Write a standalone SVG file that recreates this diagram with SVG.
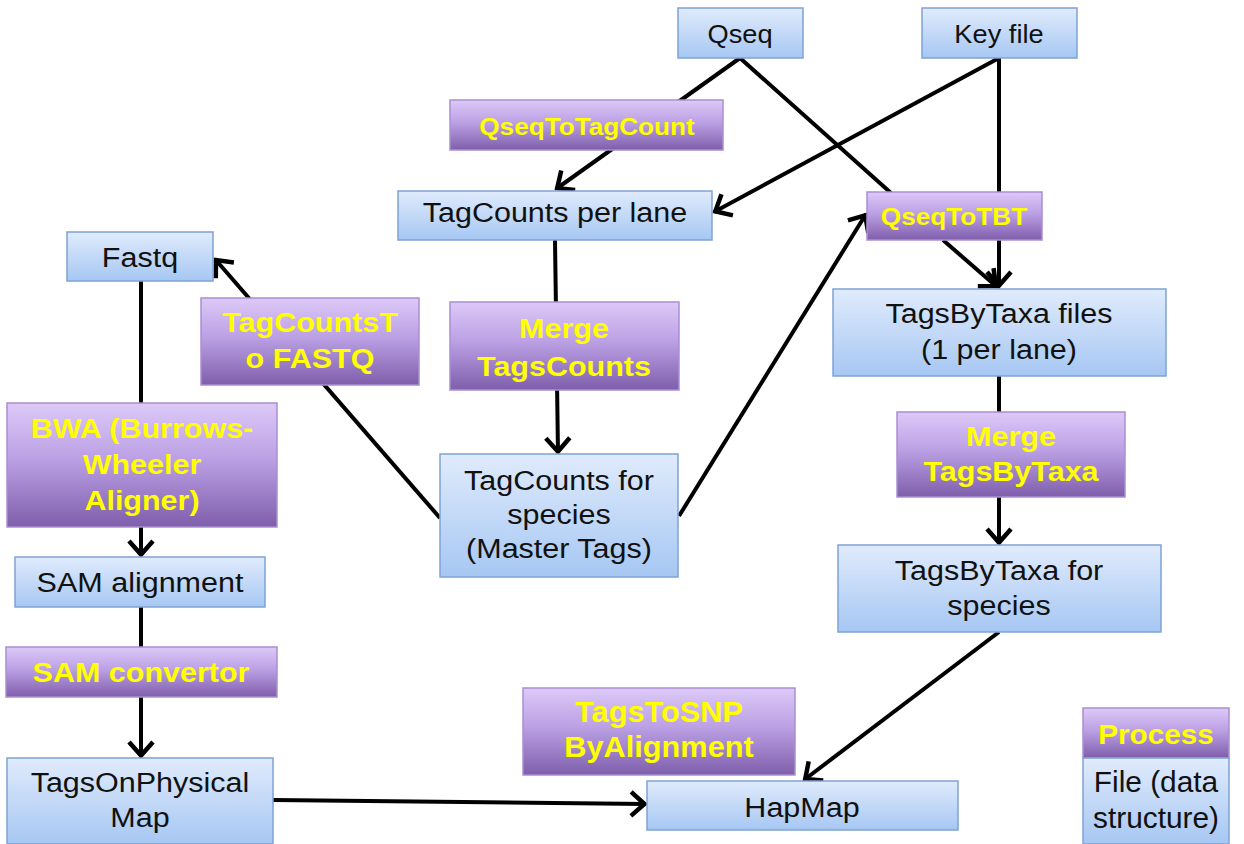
<svg xmlns="http://www.w3.org/2000/svg" width="1244" height="844" viewBox="0 0 1244 844">
<defs>
<linearGradient id="gBlue" x1="0" y1="0" x2="0" y2="1">
<stop offset="0" stop-color="#e0ebfc"/>
<stop offset="1" stop-color="#a6c7f3"/>
</linearGradient>
<linearGradient id="gPurple" x1="0" y1="0" x2="0" y2="1">
<stop offset="0" stop-color="#ddc9f8"/>
<stop offset="0.45" stop-color="#bba0e4"/>
<stop offset="1" stop-color="#7f5eab"/>
</linearGradient>
<marker id="arr" markerUnits="userSpaceOnUse" viewBox="-20 -16 24 32" markerWidth="24" markerHeight="32" refX="0" refY="0" orient="auto">
<path d="M-15,-12 L-1.5,0 L-15,12" fill="none" stroke="#000" stroke-width="4.5" stroke-linejoin="miter"/>
</marker>
<style>
.file{fill:url(#gBlue);stroke:#7ea3d4;stroke-width:1.5}
.proc{fill:url(#gPurple);stroke:#a98fcf;stroke-width:1.5}
.bt{font-family:"Liberation Sans",Arial,sans-serif;font-size:28px;fill:#111;text-anchor:middle}
.st{font-family:"Liberation Sans",Arial,sans-serif;font-size:25px;fill:#111;text-anchor:middle}
.pt{font-family:"Liberation Sans",Arial,sans-serif;font-weight:bold;font-size:28px;fill:#ffff00;text-anchor:middle}
.ps{font-family:"Liberation Sans",Arial,sans-serif;font-weight:bold;font-size:24px;fill:#ffff00;text-anchor:middle}
.c{stroke:#000;stroke-width:4;fill:none}
.ca{stroke:#000;stroke-width:4;fill:none;marker-end:url(#arr)}
</style>
</defs>
<rect width="1244" height="844" fill="#fff"/>
<g id="connectors">
<line class="ca" x1="740" y1="58" x2="556" y2="189"/>
<line class="c" x1="740" y1="58" x2="891" y2="193"/>
<line class="ca" x1="999" y1="58" x2="714" y2="212"/>
<line class="ca" x1="999" y1="58" x2="999" y2="287"/>
<line class="ca" x1="943" y1="240" x2="997" y2="287"/>
<line class="ca" x1="555" y1="240" x2="558" y2="453"/>
<line class="ca" x1="679" y1="516" x2="866" y2="214"/>
<line class="ca" x1="440" y1="518" x2="215" y2="259"/>
<line class="ca" x1="141" y1="281" x2="141" y2="556"/>
<line class="ca" x1="141" y1="607" x2="141" y2="757"/>
<line class="ca" x1="273" y1="800" x2="646" y2="804"/>
<line class="ca" x1="999" y1="632" x2="804" y2="780"/>
<line class="ca" x1="999" y1="376" x2="999" y2="544"/>
</g>
<g id="qseq"><rect class="file" x="678" y="8" width="125" height="50"/><text class="st" transform="translate(740,43) scale(1.09,1)">Qseq</text></g>
<g id="keyfile"><rect class="file" x="922" y="8" width="155" height="50"/><text class="st" transform="translate(999,43) scale(1.09,1)">Key file</text></g>
<g id="qseqToTagCount"><rect class="proc" x="450" y="100" width="273" height="50"/><text class="ps" transform="translate(587,135) scale(1.09,1)">QseqToTagCount</text></g>
<g id="tagCountsPerLane"><rect class="file" x="398" y="191" width="314" height="49"/><text class="bt" transform="translate(555,222) scale(1.09,1)">TagCounts per lane</text></g>
<g id="qseqToTBT"><rect class="proc" x="867" y="192" width="175" height="48"/><text class="ps" transform="translate(954,225) scale(1.09,1)">QseqToTBT</text></g>
<g id="tagsByTaxaFiles"><rect class="file" x="833" y="289" width="333" height="87"/><text class="bt" transform="translate(999,323) scale(1.09,1)"><tspan x="0" y="0">TagsByTaxa files</tspan><tspan x="0" y="36">(1 per lane)</tspan></text></g>
<g id="fastq"><rect class="file" x="67" y="232" width="146" height="49"/><text class="bt" transform="translate(140,267) scale(1.09,1)">Fastq</text></g>
<g id="tagCountsToFastq"><rect class="proc" x="201" y="298" width="218" height="87"/><text class="pt" transform="translate(310,332) scale(1.09,1)"><tspan x="0" y="0">TagCountsT</tspan><tspan x="0" y="36">o FASTQ</tspan></text></g>
<g id="mergeTagsCounts"><rect class="proc" x="450" y="302" width="229" height="88"/><text class="pt" transform="translate(564,338) scale(1.09,1)"><tspan x="0" y="0">Merge</tspan><tspan x="0" y="38">TagsCounts</tspan></text></g>
<g id="bwa"><rect class="proc" x="7" y="403" width="270" height="124"/><text class="pt" transform="translate(142,438) scale(1.09,1)"><tspan x="0" y="0">BWA (Burrows-</tspan><tspan x="0" y="36">Wheeler</tspan><tspan x="0" y="72">Aligner)</tspan></text></g>
<g id="tagCountsForSpecies"><rect class="file" x="440" y="454" width="238" height="123"/><text class="bt" transform="translate(559,490) scale(1.09,1)"><tspan x="0" y="0">TagCounts for</tspan><tspan x="0" y="34">species</tspan><tspan x="0" y="68">(Master Tags)</tspan></text></g>
<g id="mergeTagsByTaxa"><rect class="proc" x="897" y="412" width="228" height="85"/><text class="pt" transform="translate(1011,446) scale(1.09,1)"><tspan x="0" y="0">Merge</tspan><tspan x="0" y="35">TagsByTaxa</tspan></text></g>
<g id="tagsByTaxaForSpecies"><rect class="file" x="838" y="545" width="323" height="87"/><text class="bt" transform="translate(999,580) scale(1.09,1)"><tspan x="0" y="0">TagsByTaxa for</tspan><tspan x="0" y="35">species</tspan></text></g>
<g id="samAlignment"><rect class="file" x="15" y="557" width="250" height="50"/><text class="bt" transform="translate(140,592) scale(1.09,1)">SAM alignment</text></g>
<g id="samConvertor"><rect class="proc" x="6" y="647" width="271" height="50"/><text class="pt" transform="translate(141,682) scale(1.09,1)">SAM convertor</text></g>
<g id="tagsOnPhysicalMap"><rect class="file" x="7" y="758" width="266" height="86"/><text class="bt" transform="translate(140,792) scale(1.09,1)"><tspan x="0" y="0">TagsOnPhysical</tspan><tspan x="0" y="35">Map</tspan></text></g>
<g id="tagsToSNPByAlignment"><rect class="proc" x="523" y="688" width="272" height="87"/><text class="pt" style="font-size:29px" transform="translate(659,722) scale(1.06,1)"><tspan x="0" y="0">TagsToSNP</tspan><tspan x="0" y="35">ByAlignment</tspan></text></g>
<g id="hapMap"><rect class="file" x="647" y="781" width="311" height="49"/><text class="bt" transform="translate(802,817) scale(1.09,1)">HapMap</text></g>
<g id="legendProcess"><rect class="proc" x="1083" y="708" width="146" height="50"/><text class="pt" transform="translate(1156,744) scale(1.06,1)">Process</text></g>
<g id="legendFile"><rect class="file" x="1083" y="758" width="146" height="86"/><text class="bt" style="font-size:29px" transform="translate(1156,792) scale(1.03,1)"><tspan x="0" y="0">File (data</tspan><tspan x="0" y="36">structure)</tspan></text></g>
</svg>
